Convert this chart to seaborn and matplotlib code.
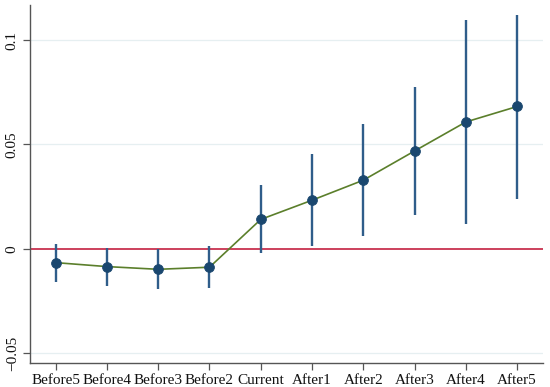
import numpy as np
import pandas as pd
import matplotlib
matplotlib.use("Agg")
import matplotlib.pyplot as plt
import seaborn as sns

sns.set_theme(style="white")
plt.rcParams['font.family'] = ['Liberation Serif', 'DejaVu Serif']

# data
periods = ['Before5', 'Before4', 'Before3', 'Before2', 'Current',
           'After1', 'After2', 'After3', 'After4', 'After5']
coef = [-0.0066, -0.0085, -0.0098, -0.0088, 0.0141,
        0.0233, 0.0329, 0.0469, 0.0608, 0.0682]
ci_low = [-0.0160, -0.0176, -0.0194, -0.0186, -0.0022,
          0.0012, 0.0061, 0.0163, 0.0120, 0.0241]
ci_high = [0.0022, 0.0006, -0.0002, 0.0012, 0.0304,
           0.0456, 0.0597, 0.0776, 0.1097, 0.1122]
yticks = [-0.05, 0, 0.05, 0.1]
ytick_labels = ['\u22120.05', '0', '0.05', '0.1']

df = pd.DataFrame({'period': periods, 'coef': coef,
                   'lo': ci_low, 'hi': ci_high})
df['x'] = np.arange(len(df))

fig = plt.figure(figsize=(5.5, 3.87), dpi=100)
ax = fig.add_axes([0.0545, 0.063, 0.9325, 0.924])

for y in [0.1, 0.05, -0.05]:
    ax.axhline(y, color='#e6eff1', lw=0.9, zorder=0)
ax.axhline(0, color='#c8314f', lw=1.3, zorder=1)

ax.vlines(df['x'], df['lo'], df['hi'], color='#2f5d8a', lw=1.7, zorder=2)
sns.lineplot(data=df, x='x', y='coef', color='#5b7f2b', lw=1.2, ax=ax, zorder=3)
sns.scatterplot(data=df, x='x', y='coef', color='#1a476f', s=50,
                edgecolor='#1a476f', ax=ax, zorder=4)

ax.set_xlim(-0.5, 9.5)
ax.set_ylim(-0.0545, 0.1168)
ax.set_xticks(df['x'])
ax.set_xticklabels(periods, fontsize=11)
ax.set_yticks(yticks)
ax.set_yticklabels(ytick_labels, fontsize=11, rotation=90, va='center')
ax.set_xlabel('')
ax.set_ylabel('')

sns.despine(ax=ax)
for s in ['left', 'bottom']:
    ax.spines[s].set_color('#555555')
    ax.spines[s].set_linewidth(1.0)
ax.tick_params(axis='both', direction='out', length=5, width=0.9,
               color='#555555', colors='#111111', pad=3)
ax.tick_params(axis='both', which='both', left=True, bottom=True)

fig.savefig('out.png', dpi=100)
